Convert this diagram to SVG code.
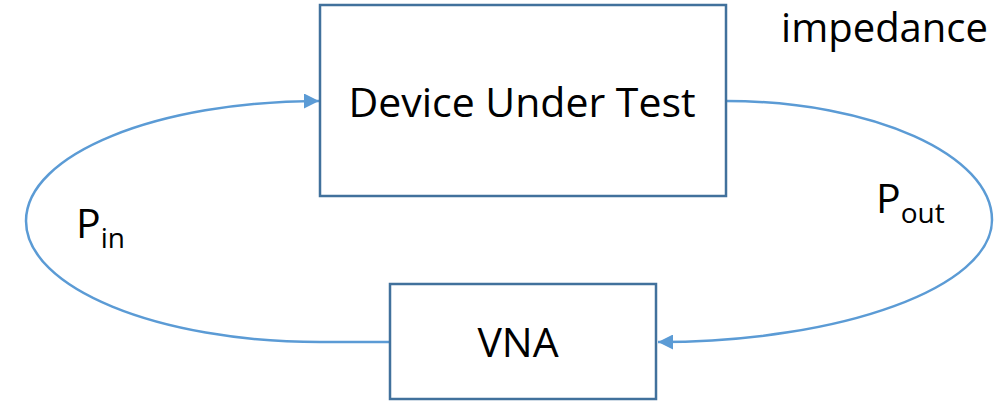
<svg xmlns="http://www.w3.org/2000/svg" width="998" height="402" viewBox="0 0 998 402">
  <style>
    .box { fill: #ffffff; stroke: #41719c; stroke-width: 2.5; }
    .lbl { font-family: "Open Sans", "Liberation Sans", sans-serif; fill: #000000; }
    .wire { fill: none; stroke: #5b9bd5; stroke-width: 2.5; }
  </style>
  <defs>
    <marker id="arrow" viewBox="0 0 10 10" refX="10" refY="5" markerWidth="6" markerHeight="6" orient="auto" markerUnits="strokeWidth">
      <path d="M0,0 L10,5 L0,10 z" fill="#5b9bd5"/>
    </marker>
  </defs>

  <g id="connectors">
    <!-- VNA output back round to the DUT input -->
    <path class="wire" d="M390,342 L320,342 C158,342 26,288 26,221 C26,154 158,101 319,101" marker-end="url(#arrow)"/>
    <!-- DUT output round to the VNA input -->
    <path class="wire" d="M726,101 C873,101 992,155 992,220 C992,287 842,342 658,342" marker-end="url(#arrow)"/>
  </g>

  <g id="dut">
    <rect class="box" x="320" y="5" width="406" height="191"/>
    <text class="lbl" x="522" y="117" font-size="41" text-anchor="middle">Device Under Test</text>
  </g>

  <g id="vna">
    <rect class="box" x="390" y="284" width="266" height="115"/>
    <text class="lbl" x="518" y="357" font-size="41" text-anchor="middle">VNA</text>
  </g>

  <g id="impedance">
    <text class="lbl" x="988" y="42" font-size="40" text-anchor="end">impedance</text>
  </g>

  <g id="p-in">
    <text class="lbl" x="76" y="238" font-size="41">P<tspan font-size="28" dy="10">in</tspan></text>
  </g>

  <g id="p-out">
    <text class="lbl" x="876" y="213" font-size="41">P<tspan font-size="28" dy="10">out</tspan></text>
  </g>
</svg>
